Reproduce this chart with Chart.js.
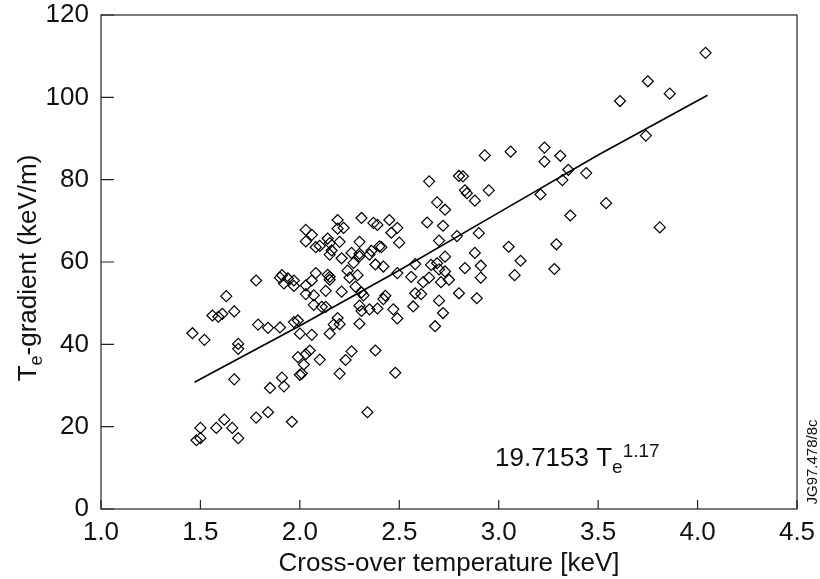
<!DOCTYPE html>
<html>
<head>
<meta charset="utf-8">
<script src="https://cdn.jsdelivr.net/npm/chart.js@4.4.0/dist/chart.umd.min.js"></script>
<style>
  html, body { margin: 0; padding: 0; background: #fff; }
  #wrap { width: 820px; height: 579px; }
</style>
</head>
<body>
<div id="wrap"><canvas id="chartCanvas" width="820" height="579"></canvas></div>
<script>
// Cross-over temperature [keV] and Te-gradient (keV/m)
const crossTemp = [
  4.04, 3.75, 3.86, 3.61, 3.74, 3.81, 3.54, 3.44, 3.35, 3.32, 3.31, 3.23, 3.23, 3.21, 3.36, 3.29, 3.28,
  3.06, 2.93, 2.95, 3.05, 3.11, 3.08, 2.80, 2.82, 2.83, 2.84, 2.88, 2.65, 2.69, 2.73, 2.64, 2.72, 2.90,
  2.79, 2.70, 2.88, 2.73, 2.91, 2.83, 2.91, 2.89, 2.80, 2.72, 2.70, 2.68, 2.66, 2.69, 2.70, 2.73, 2.75,
  2.71, 2.65, 2.62, 2.58, 2.61, 2.57, 2.56, 2.58, 2.49, 2.49, 2.47, 2.48, 2.43, 2.42, 2.39, 2.35, 2.38,
  2.34, 2.50, 2.49, 2.45, 2.46, 2.37, 2.39, 2.40, 2.41, 2.31, 2.30, 2.36, 2.35, 2.30, 2.26, 2.30, 2.27,
  2.38, 2.42, 2.29, 2.25, 2.28, 2.31, 2.32, 2.30, 2.31, 2.30, 2.26, 2.23, 2.20, 2.20, 2.19, 2.17, 2.15,
  2.21, 2.24, 2.21, 2.20, 2.22, 2.19, 2.19, 2.14, 2.15, 2.15, 2.16, 2.14, 2.15, 2.15, 2.13, 2.11, 2.13,
  2.07, 2.03, 2.06, 2.08, 2.07, 2.03, 2.08, 2.10, 2.06, 2.03, 2.03, 2.06, 2.10, 2.05, 2.03, 1.99, 2.02,
  2.00, 2.01, 2.00, 1.99, 1.97, 1.96, 1.97, 1.97, 1.94, 1.91, 1.90, 1.92, 1.90, 1.91, 1.92, 1.85, 1.84,
  1.79, 1.78, 1.84, 1.78, 1.69, 1.69, 1.67, 1.67, 1.63, 1.61, 1.59, 1.56, 1.52, 1.46, 1.62, 1.66, 1.69,
  1.58, 1.50, 1.48, 1.50
];
const teGradient = [
  110.8, 103.9, 100.9, 99.1, 90.7, 68.4, 74.3, 81.6, 82.4, 79.9, 85.8, 87.8, 84.4, 76.4, 71.3, 64.3, 58.3,
  86.8, 85.9, 77.4, 63.7, 60.3, 56.8, 80.9, 80.8, 77.4, 76.7, 74.9, 79.6, 74.5, 72.7, 69.6, 68.8, 67.0,
  66.3, 65.2, 62.2, 61.3, 59.1, 58.5, 56.2, 51.2, 52.4, 47.6, 50.6, 44.4, 59.3, 59.7, 58.2, 57.7, 55.7,
  55.1, 56.2, 55.1, 52.4, 52.2, 49.2, 56.4, 59.5, 57.3, 46.3, 48.5, 33.1, 51.8, 51.0, 48.7, 48.5, 38.5,
  23.5, 64.7, 68.3, 70.2, 67.1, 69.5, 69.0, 63.8, 63.6, 70.7, 64.9, 62.7, 61.8, 62.0, 62.2, 61.4, 59.8,
  59.4, 58.9, 56.8, 56.2, 54.0, 52.6, 51.9, 49.4, 48.1, 45.0, 38.3, 36.2, 32.9, 44.9, 46.4, 44.8, 42.6,
  52.8, 57.9, 60.9, 64.9, 68.3, 70.2, 68.1, 65.7, 64.6, 61.8, 62.8, 56.9, 56.4, 55.7, 53.0, 49.1, 49.1,
  51.9, 54.3, 55.5, 57.3, 49.6, 52.2, 63.6, 63.9, 66.6, 65.0, 67.8, 42.3, 36.3, 38.5, 37.6, 36.9, 35.1,
  32.6, 32.9, 42.6, 45.8, 45.4, 21.2, 54.2, 55.5, 56.0, 56.8, 56.2, 54.8, 44.1, 31.9, 29.8, 29.4, 23.5,
  44.8, 55.5, 44.0, 22.2, 40.1, 38.9, 31.5, 48.0, 51.7, 47.4, 46.7, 47.0, 41.1, 42.7, 21.7, 19.7, 17.2,
  19.7, 19.7, 16.7, 17.2
];

// Fit line 19.7153 Te^1.17
const fitTemp = [1.47, 2.0, 2.5, 3.0, 3.5, 4.05];
const fitGradient = [30.8, 44.5, 58.0, 72.0, 86.0, 100.5];

const xTicks = [1.0, 1.5, 2.0, 2.5, 3.0, 3.5, 4.0, 4.5];
const yTicks = [0, 20, 40, 60, 80, 100, 120];

const FONT = "'Liberation Sans', Arial, sans-serif";

//Draws the frame, inward ticks and the texts with subscripts
const framePlugin = {
    id: 'frame',
    afterDraw(chart) {
        const c = chart.ctx;
        const a = chart.chartArea;
        const xs = chart.scales.x;
        const ys = chart.scales.y;
        c.save();
        c.strokeStyle = '#222';
        c.lineWidth = 1.2;
        c.strokeRect(a.left, a.top, a.right - a.left, a.bottom - a.top);
        c.beginPath();
        xTicks.forEach(v => {
            const px = xs.getPixelForValue(v);
            c.moveTo(px, a.bottom);
            c.lineTo(px, a.bottom - 9);
        });
        yTicks.forEach(v => {
            const py = ys.getPixelForValue(v);
            c.moveTo(a.left, py);
            c.lineTo(a.left + 13, py);
        });
        c.stroke();

        c.fillStyle = '#111';
        //Y axis title with subscript e
        c.translate(29, 268);
        c.rotate(-Math.PI / 2);
        c.textBaseline = 'middle';
        c.textAlign = 'left';
        const parts = [['T', 26, 0], ['e', 18, 8], ['-gradient (keV/m)', 26, 0]];
        let w = 0;
        parts.forEach(p => { c.font = p[1] + 'px ' + FONT; w += c.measureText(p[0]).width; });
        let x0 = -w / 2;
        parts.forEach(p => {
            c.font = p[1] + 'px ' + FONT;
            c.fillText(p[0], x0, p[2]);
            x0 += c.measureText(p[0]).width;
        });
        c.setTransform(1, 0, 0, 1, 0, 0);

        //Fit annotation
        c.textAlign = 'left';
        c.textBaseline = 'alphabetic';
        c.font = '26px ' + FONT;
        let tx = 495;
        const ty = 466;
        c.fillText('19.7153 T', tx, ty);
        tx += c.measureText('19.7153 T').width;
        c.font = '19px ' + FONT;
        c.fillText('e', tx, ty + 7);
        tx += c.measureText('e').width;
        c.fillText('1.17', tx, ty - 9);

        //Figure reference
        c.translate(813, 462);
        c.rotate(-Math.PI / 2);
        c.font = '15px ' + FONT;
        c.textAlign = 'center';
        c.textBaseline = 'middle';
        c.fillText('JG97.478/8c', 0, 0);
        c.restore();
    }
};

const ctx = document.getElementById('chartCanvas');
new Chart(ctx, {
    type: 'scatter',
    data: {
        datasets: [{
            label: 'data',
            data: crossTemp.map((t, i) => ({ x: t, y: teGradient[i] })),
            pointStyle: 'rectRot',
            pointRadius: 5.5,
            pointBorderWidth: 1.2,
            pointBorderColor: '#000',
            pointBackgroundColor: 'rgba(0,0,0,0)'
        }, {
            label: 'fit',
            type: 'line',
            data: fitTemp.map((t, i) => ({ x: t, y: fitGradient[i] })),
            borderColor: '#000',
            borderWidth: 1.6,
            pointRadius: 0,
            fill: false,
            tension: 0
        }]
    },
    plugins: [framePlugin],
    options: {
        responsive: false,
        animation: false,
        layout: { padding: { left: 0, right: 23, top: 15, bottom: 0 } },
        plugins: { legend: { display: false }, tooltip: { enabled: false } },
        scales: {
            x: {
                type: 'linear',
                min: 1.0,
                max: 4.5,
                afterBuildTicks: s => { s.ticks = xTicks.map(v => ({ value: v })); },
                afterFit: s => { s.height = 70; s.paddingLeft = 0; s.paddingRight = 0; },
                grid: { display: false, drawTicks: false },
                border: { display: false },
                ticks: {
                    color: '#111',
                    padding: 8,
                    maxRotation: 0,
                    font: { family: FONT, size: 26 },
                    callback: v => v.toFixed(1)
                },
                title: {
                    display: true,
                    text: 'Cross-over temperature [keV]',
                    color: '#111',
                    padding: { top: 0, bottom: 0 },
                    font: { family: FONT, size: 26 }
                }
            },
            y: {
                type: 'linear',
                min: 0,
                max: 120,
                afterBuildTicks: s => { s.ticks = yTicks.map(v => ({ value: v })); },
                afterFit: s => { s.width = 101; s.paddingTop = 0; s.paddingBottom = 0; },
                grid: { display: false, drawTicks: false },
                border: { display: false },
                ticks: {
                    color: '#111',
                    padding: 12,
                    font: { family: FONT, size: 26 }
                }
            }
        }
    }
});
</script>
</body>
</html>
